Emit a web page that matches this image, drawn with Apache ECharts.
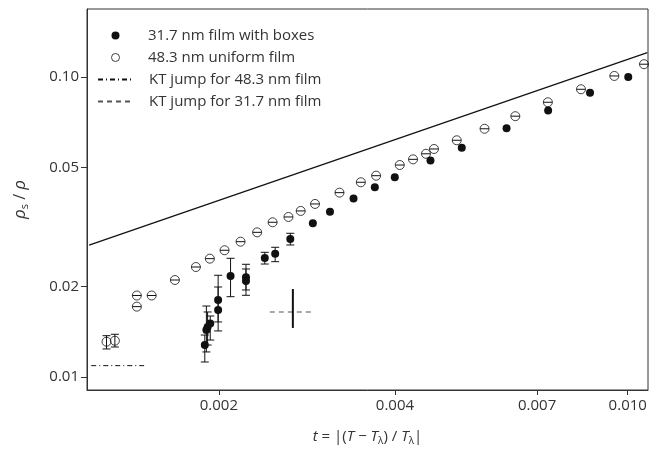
<!DOCTYPE html>
<html>
<head>
<meta charset="utf-8">
<script src="https://cdn.jsdelivr.net/npm/echarts@6/dist/echarts.min.js"></script>
<style>
  html, body { margin: 0; padding: 0; background: #fff; }
  #chart { width: 650px; height: 454px; }
</style>
</head>
<body>
<div id="chart"></div>
<script>
// axis ticks
const xTicks = [0.002, 0.004, 0.007, 0.010]
const yTicks = [0.01, 0.02, 0.05, 0.10]

// 31.7 nm film with boxes (filled)
const filledT = [0.001892, 0.001904, 0.001913, 0.001933, 0.001994, 0.001994, 0.002094, 0.002225, 0.002225, 0.002396, 0.002496, 0.002649, 0.002895, 0.003097, 0.003398, 0.003695, 0.003997, 0.0046, 0.005203, 0.006206, 0.00731, 0.00862, 0.01002]
const filledRho = [0.01278, 0.01435, 0.01468, 0.01508, 0.01672, 0.01806, 0.02171, 0.02149, 0.02089, 0.02493, 0.02576, 0.02884, 0.03256, 0.03555, 0.03936, 0.0429, 0.04634, 0.05267, 0.05808, 0.06751, 0.07731, 0.08858, 0.1]
// error bars of the first filled points
const filledErrT = [0.001892, 0.001904, 0.001913, 0.001933, 0.001994, 0.001994, 0.002094, 0.002225, 0.002225, 0.002396, 0.002496, 0.002649]
const filledLo = [0.01122, 0.01212, 0.01278, 0.01328, 0.01424, 0.01526, 0.01852, 0.0195, 0.01872, 0.0238, 0.02423, 0.02754]
const filledHi = [0.0138, 0.01724, 0.01647, 0.01597, 0.01995, 0.02183, 0.02487, 0.02375, 0.02291, 0.02604, 0.02706, 0.03013]

// 48.3 nm uniform film (open), points with visible bars
const openBarT = [0.001285, 0.001328]
const openBarRho = [0.01311, 0.01321]
const openBarLo = [0.0124, 0.01259]
const openBarHi = [0.01373, 0.01388]
// remaining open points (bars hidden inside the circle)
const openT = [0.001448, 0.001448, 0.001535, 0.001682, 0.001827, 0.00193, 0.002045, 0.002178, 0.002325, 0.002471, 0.00263, 0.00276, 0.00292, 0.003215, 0.003497, 0.003714, 0.004076, 0.004295, 0.004519, 0.004664, 0.005101, 0.005691, 0.006424, 0.007302, 0.008319, 0.009486, 0.01066]
const openRho = [0.01869, 0.01716, 0.01869, 0.02105, 0.02326, 0.0248, 0.02645, 0.02825, 0.03035, 0.03279, 0.03415, 0.03577, 0.03774, 0.04116, 0.04457, 0.04688, 0.05088, 0.05315, 0.05546, 0.05754, 0.06152, 0.0672, 0.07402, 0.08237, 0.09099, 0.1008, 0.1103]

// bulk line
const bulkT = [0.0012, 0.0108]
const bulkRho = [0.0275, 0.1205]

// KT jumps
const kt48T = [0.00121, 0.00149]
const kt48Rho = [0.01091, 0.01091]
const kt31T = [0.002444, 0.002884]
const kt31Rho = [0.01647, 0.01647]
const kt31BarT = [0.002676, 0.002676]
const kt31BarRho = [0.01457, 0.01965]

const INK = '#111'
const FONT = 'Open Sans'
const NO_MARK = { color: 'rgba(0,0,0,0)', borderColor: 'rgba(0,0,0,0)', borderWidth: 0 }

const zip = (a, b) => a.map((v, i) => [v, b[i]])

const chart = echarts.init(document.getElementById('chart'))

function renderBar(params, api) {
  const x = api.value(0)
  const p1 = api.coord([x, api.value(1)])
  const p2 = api.coord([x, api.value(2)])
  const w = 4
  const style = { stroke: INK, lineWidth: 1 }
  return {
    type: 'group',
    children: [
      { type: 'line', shape: { x1: p1[0], y1: p1[1], x2: p2[0], y2: p2[1] }, style },
      { type: 'line', shape: { x1: p1[0] - w, y1: p1[1], x2: p1[0] + w, y2: p1[1] }, style },
      { type: 'line', shape: { x1: p2[0] - w, y1: p2[1], x2: p2[0] + w, y2: p2[1] }, style }
    ]
  }
}

// the tiny error bars of the open points collapse to a line across the circle
function renderCap(params, api) {
  const p = api.coord([api.value(0), api.value(1)])
  return {
    type: 'line',
    shape: { x1: p[0] - 4.5, y1: p[1], x2: p[0] + 4.5, y2: p[1] },
    style: { stroke: INK, lineWidth: 1 }
  }
}

const option = {
  backgroundColor: '#fff',
  animation: false,
  grid: {
    left: 87,
    right: 2,
    top: 9,
    bottom: 64,
    show: true,
    borderColor: '#333',
    borderWidth: 1
  },
  legend: {
    orient: 'vertical',
    left: 92,
    top: 23,
    itemWidth: 35,
    itemHeight: 8,
    itemGap: 7,
    data: [
      {
        name: '31.7 nm film with boxes',
        icon: 'circle',
        itemStyle: { color: INK, borderWidth: 0 },
        textStyle: { padding: [0, 0, 0, 10] }
      },
      {
        name: '48.3 nm uniform film',
        icon: 'circle',
        itemStyle: { color: '#fff', borderColor: INK, borderWidth: 1 },
        textStyle: { padding: [0, 0, 0, 10] }
      },
      { name: 'KT jump for 48.3 nm film', itemStyle: NO_MARK },
      { name: 'KT jump for 31.7 nm film', itemStyle: NO_MARK }
    ],
    textStyle: {
      fontFamily: FONT,
      fontSize: 15,
      color: '#333',
      padding: [0, 0, 0, 11]
    }
  },
  xAxis: {
    type: 'log',
    min: 0.00119,
    max: 0.01083,
    name: '{i|t} = |({i|T} − {i|T}{s|λ}) / {i|T}{s|λ}|',
    nameLocation: 'middle',
    nameGap: 38,
    nameTextStyle: {
      fontFamily: FONT,
      fontSize: 15,
      color: '#333',
      rich: {
        i: { fontFamily: FONT, fontSize: 15, fontStyle: 'italic', color: '#333' },
        s: { fontFamily: FONT, fontSize: 10, color: '#333', padding: [8, 0, 0, 0] }
      }
    },
    axisLine: { lineStyle: { color: '#333', width: 1 } },
    axisTick: { customValues: xTicks, length: 5, lineStyle: { color: '#333' } },
    axisLabel: {
      customValues: xTicks,
      formatter: v => Number(v).toFixed(3),
      fontFamily: FONT,
      fontSize: 15,
      color: '#333',
      margin: 8
    },
    splitLine: { show: false },
    minorTick: { show: false }
  },
  yAxis: {
    type: 'log',
    min: 0.00905,
    max: 0.1685,
    name: '{r|ρ}{s|s} / {r|ρ}',
    nameLocation: 'middle',
    nameGap: 57,
    nameRotate: 90,
    nameTextStyle: {
      fontFamily: FONT,
      fontSize: 16,
      color: '#333',
      rich: {
        r: { fontFamily: FONT, fontSize: 17, fontStyle: 'italic', color: '#333' },
        s: { fontFamily: FONT, fontSize: 11, color: '#333', padding: [8, 0, 0, 0] }
      }
    },
    axisLine: { lineStyle: { color: '#333', width: 1 } },
    axisTick: { customValues: yTicks, length: 6, lineStyle: { color: '#333' } },
    axisLabel: {
      customValues: yTicks,
      formatter: v => Number(v).toFixed(2),
      fontFamily: FONT,
      fontSize: 15,
      color: '#333',
      margin: 8
    },
    splitLine: { show: false },
    minorTick: { show: false }
  },
  series: [
    {
      name: 'bulk',
      type: 'line',
      data: zip(bulkT, bulkRho),
      symbol: 'none',
      lineStyle: { color: INK, width: 1.2 },
      z: 1
    },
    {
      name: 'KT jump for 48.3 nm film',
      type: 'line',
      data: zip(kt48T, kt48Rho),
      symbol: 'none',
      color: INK,
      lineStyle: { color: INK, width: 1, type: [5, 3, 1, 3] }
    },
    {
      name: 'KT jump for 31.7 nm film',
      type: 'line',
      data: zip(kt31T, kt31Rho),
      symbol: 'none',
      color: INK,
      lineStyle: { color: '#555', width: 1.2, type: [5, 4] }
    },
    {
      name: 'kt31bar',
      type: 'line',
      data: zip(kt31BarT, kt31BarRho),
      symbol: 'none',
      lineStyle: { color: INK, width: 2 }
    },
    {
      name: 'filledBars',
      type: 'custom',
      renderItem: renderBar,
      data: filledErrT.map((t, i) => [t, filledLo[i], filledHi[i]]),
      encode: { x: 0, y: [1, 2] },
      z: 2
    },
    {
      name: 'openBars',
      type: 'custom',
      renderItem: renderBar,
      data: openBarT.map((t, i) => [t, openBarLo[i], openBarHi[i]]),
      encode: { x: 0, y: [1, 2] },
      z: 2
    },
    {
      name: '48.3 nm uniform film',
      type: 'scatter',
      data: zip(openBarT, openBarRho).concat(zip(openT, openRho)),
      symbol: 'circle',
      symbolSize: 9,
      itemStyle: { color: 'rgba(255,255,255,0)', borderColor: INK, borderWidth: 1 },
      z: 3
    },
    {
      name: 'openCaps',
      type: 'custom',
      renderItem: renderCap,
      data: zip(openT, openRho),
      encode: { x: 0, y: 1 },
      z: 4
    },
    {
      name: '31.7 nm film with boxes',
      type: 'scatter',
      data: zip(filledT, filledRho),
      symbol: 'circle',
      symbolSize: 8,
      itemStyle: { color: INK, opacity: 1 },
      z: 5
    }
  ]
}

chart.setOption(option)
</script>
</body>
</html>
